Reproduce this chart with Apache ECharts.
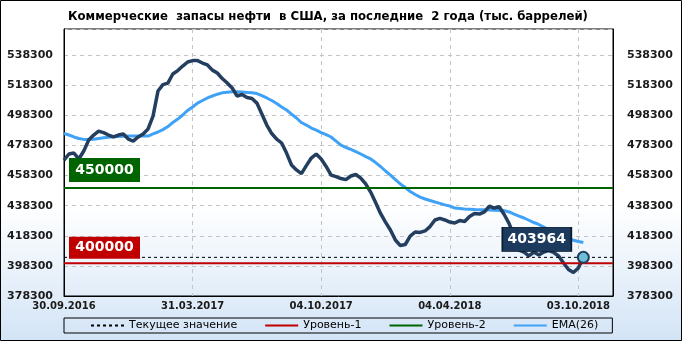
<!DOCTYPE html>
<html>
<head>
<meta charset="utf-8">
<script src="https://cdn.jsdelivr.net/npm/echarts@6/dist/echarts.min.js"></script>
<style>html,body{margin:0;padding:0;}#c{width:682px;height:341px;}</style>
</head>
<body>
<div id="c"></div>
<script>
const titleText = 'Коммерческие  запасы нефти  в США, за последние  2 года (тыс. баррелей)';
const xLabels = ['30.09.2016', '31.03.2017', '04.10.2017', '04.04.2018', '03.10.2018'];
const weeksPerLabel = 26;
const xMax = 111;
const yMin = 378300, yMax = 555600, yStep = 20000;
const level1 = 400000;
const level2 = 450000;
const legendNames = ['Текущее значение', 'Уровень-1', 'Уровень-2', 'EMA(26)'];

const stocks = [
  468600, 472600, 473200, 469300, 474600, 481900, 485200, 487800, 486800, 485200,
  483900, 485200, 485900, 482500, 481200, 483900, 485900, 489200, 497800, 514400,
  518700, 519700, 525700, 528000, 531000, 533700, 534600, 534600, 533000, 531700,
  528300, 526400, 522700, 519700, 516400, 511100, 512100, 510100, 509400, 506400,
  499100, 491800, 486200, 482500, 479900, 473200, 465300, 462000, 459600, 464900,
  469900, 472600, 469300, 464300, 458600, 457600, 456300, 455600, 458000, 459000,
  456600, 452700, 447300, 440400, 433100, 427400, 422100, 415500, 411800, 412500,
  418100, 420800, 420500, 421500, 424400, 428800, 429800, 428800, 427400, 426800,
  428400, 427800, 431100, 433100, 432700, 434100, 437900, 436700, 437600, 432400,
  426400, 418100, 408800, 407500, 404900, 407500, 405500, 407500, 408500, 407200,
  404900, 400200, 395900, 393900, 396900, 403964
];
const ema26 = [
  486200, 485200, 483900, 482900, 482300, 482300, 482400, 482900, 483400, 483700,
  484000, 484200, 484400, 484500, 484500, 484500, 484500, 484500, 485900, 487200,
  488800, 490800, 493500, 495800, 498500, 501500, 503800, 506400, 508100, 509800,
  511100, 512300, 513200, 513600, 513900, 513900, 513700, 513500, 513200, 512700,
  511400, 509800, 508100, 506100, 503800, 501800, 499100, 496500, 493500, 491800,
  489800, 488500, 486800, 485500, 483900, 481200, 478500, 476900, 475600, 474200,
  472600, 470900, 469300, 466900, 464300, 461300, 458600, 455600, 452700, 450300,
  447700, 445700, 444000, 442700, 441700, 440700, 439800, 438800, 438100, 436700,
  436400, 436100, 435900, 435700, 435600, 435500, 435400, 435300, 435100, 435000,
  434100, 432700, 431400, 430100, 428600, 427100, 425800, 424100, 422300, 420700,
  419000, 417500, 416300, 415300, 414500, 413800
];

const FONT = 'DejaVu Sans';
const lastIdx = stocks.length - 1;
const lastVal = stocks[lastIdx];
const current = lastVal;

const chart = echarts.init(document.getElementById('c'), null, {renderer: 'canvas'});

const yLabelStyle = {showMaxLabel: false, formatter: v => String(v), fontFamily: FONT, fontWeight: 'bold', fontSize: 11, color: '#1a1a1a'};
const yAxisBase = {
  type: 'value', min: yMin, max: yMax, interval: yStep,
  axisLine: {show: true, lineStyle: {color: '#000', width: 1}},
  axisTick: {show: false}
};

const option = {
  animation: false,
  backgroundColor: {type: 'linear', x: 0, y: 0, x2: 0, y2: 1, colorStops: [
    {offset: 0, color: '#ffffff'}, {offset: 0.6, color: '#ffffff'}, {offset: 1, color: '#d3e4f6'}]},
  title: {
    text: titleText, left: 63, top: 5,
    textStyle: {fontFamily: 'DejaVu Sans Condensed', fontWeight: 'bold', fontSize: 13, color: '#000'}
  },
  grid: {left: 64, right: 69, top: 29, bottom: 45, show: true, borderColor: '#000', borderWidth: 1,
         backgroundColor: 'transparent', containLabel: false, outerBoundsMode: 'none'},
  legend: {
    data: legendNames, left: 64, top: 318, orient: 'horizontal',
    itemWidth: 33, itemHeight: 10, itemGap: 27, padding: [2, 14, 2, 26],
    borderColor: '#000', borderWidth: 1, selectedMode: false,
    itemStyle: {opacity: 0},
    textStyle: {fontFamily: FONT, fontSize: 11, color: '#000'}
  },
  xAxis: {
    type: 'value', min: 0, max: xMax, interval: weeksPerLabel,
    axisLine: {show: true, lineStyle: {color: '#000'}},
    axisTick: {show: false},
    splitLine: {show: true, lineStyle: {color: '#c4c4c4', type: [4, 4]}},
    axisLabel: {
      showMaxLabel: false, margin: 5,
      formatter: v => { const k = v / weeksPerLabel; return Number.isInteger(k) && xLabels[k] ? xLabels[k] : ''; },
      fontFamily: FONT, fontWeight: 'bold', fontSize: 10, color: '#1a1a1a'
    }
  },
  yAxis: [
    Object.assign({}, yAxisBase, {position: 'left', axisLabel: Object.assign({}, yLabelStyle, {margin: 11}),
      splitLine: {show: true, lineStyle: {color: '#c4c4c4', type: [4, 4]}}}),
    Object.assign({}, yAxisBase, {position: 'right', axisLabel: Object.assign({}, yLabelStyle, {margin: 14}),
      splitLine: {show: false}})
  ],
  series: [
    {
      name: 'EMA(26)', type: 'line', z: 2, symbol: 'none',
      data: ema26.map((v, i) => [i, v]),
      lineStyle: {color: '#40a2f7', width: 3}, itemStyle: {color: '#40a2f7'}
    },
    {
      name: 'Запасы', type: 'line', z: 3, symbol: 'none',
      data: stocks.map((v, i) => [i, v]),
      lineStyle: {color: '#233e5f', width: 3.5}, itemStyle: {color: '#233e5f'}
    },
    {
      name: 'Уровень-1', type: 'line', z: 4, symbol: 'none',
      data: [[0, level1], [xMax, level1]],
      lineStyle: {color: '#c00000', width: 2}, itemStyle: {color: '#c00000'},
      markPoint: {
        data: [{coord: [0, level1], value: level1, symbol: 'rect', symbolSize: [71, 22], symbolOffset: [40.5, -15.5],
          itemStyle: {color: '#c00000', opacity: 1},
          label: {show: true, position: 'inside', color: '#fff', fontFamily: FONT, fontWeight: 'bold', fontSize: 14}}]
      }
    },
    {
      name: 'Уровень-2', type: 'line', z: 4, symbol: 'none',
      data: [[0, level2], [xMax, level2]],
      lineStyle: {color: '#006400', width: 2}, itemStyle: {color: '#006400'},
      markPoint: {
        data: [{coord: [0, level2], value: level2, symbol: 'rect', symbolSize: [71, 24], symbolOffset: [40.5, -18],
          itemStyle: {color: '#006400', opacity: 1},
          label: {show: true, position: 'inside', color: '#fff', fontFamily: FONT, fontWeight: 'bold', fontSize: 14}}]
      }
    },
    {
      name: 'Текущее значение', type: 'line', z: 4, symbol: 'none',
      data: [[0, current], [xMax, current]],
      lineStyle: {color: '#000', width: 1, type: [3, 3]}, itemStyle: {color: '#000'}
    },
    {
      name: 'Последнее', type: 'scatter', z: 6,
      data: [[lastIdx, lastVal]],
      symbol: 'circle', symbolSize: 11,
      itemStyle: {color: '#6cbfd6', borderColor: '#233e5f', borderWidth: 2, opacity: 1},
      markPoint: {
        data: [{coord: [lastIdx, lastVal], value: lastVal, symbol: 'rect', symbolSize: [69, 24], symbolOffset: [-46.5, -18],
          itemStyle: {color: '#1c3a5e', borderColor: '#0b1a2b', borderWidth: 1},
          label: {show: true, position: 'inside', color: '#fff', fontFamily: FONT, fontWeight: 'bold', fontSize: 14}}]
      }
    }
  ],
  graphic: [{
    type: 'rect', z: 100, silent: true,
    shape: {x: 0.5, y: 0.5, width: 681, height: 340},
    style: {fill: 'none', stroke: '#000', lineWidth: 1}
  }]
};
chart.setOption(option);
</script>
</body>
</html>
